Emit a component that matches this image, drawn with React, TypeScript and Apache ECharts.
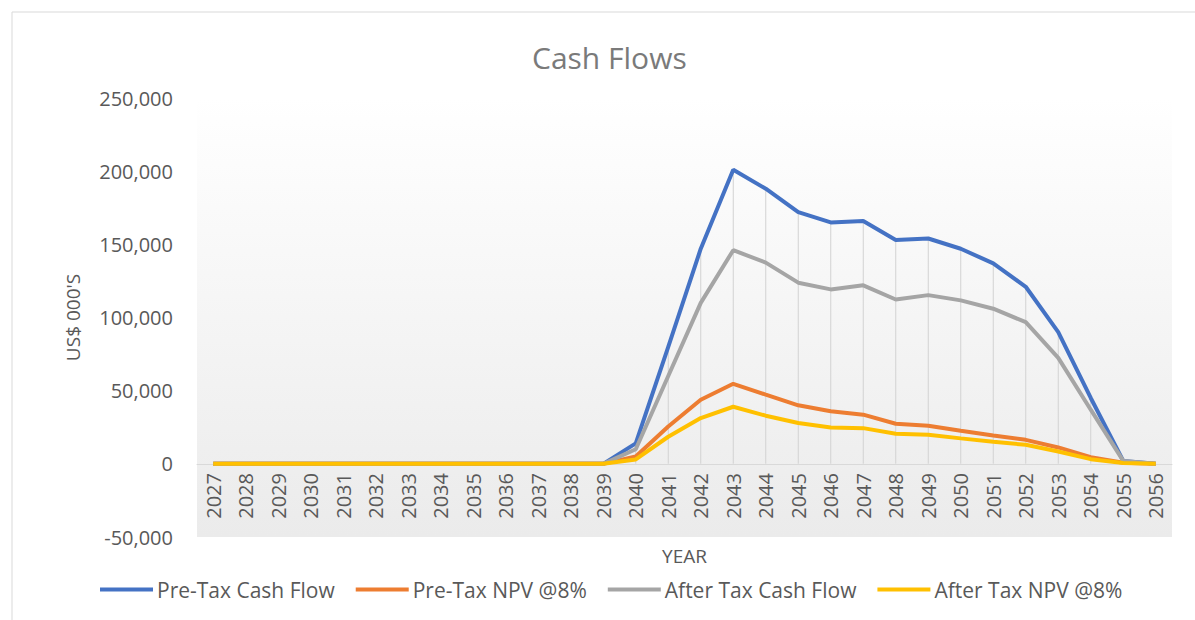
import React, { useEffect, useRef } from "react";
import * as echarts from "echarts";

const years = [
  "2027", "2028", "2029", "2030", "2031", "2032", "2033", "2034", "2035", "2036",
  "2037", "2038", "2039", "2040", "2041", "2042", "2043", "2044", "2045", "2046",
  "2047", "2048", "2049", "2050", "2051", "2052", "2053", "2054", "2055", "2056",
];

const preTaxCashFlow = [
  0, 0, 0, 0, 0, 0, 0, 0, 0, 0, 0, 0, 0,
  14000, 80000, 147000, 201000, 188000, 172000, 165000, 166000, 153000, 154000,
  147000, 137000, 121000, 90000, 45000, 2000, 0,
];

const preTaxNPV = [
  0, 0, 0, 0, 0, 0, 0, 0, 0, 0, 0, 0, 0,
  5000, 25500, 43800, 54700, 47300, 40000, 35900, 33600, 27400, 26000,
  22600, 19400, 16400, 11200, 4600, 700, 0,
];

const afterTaxCashFlow = [
  0, 0, 0, 0, 0, 0, 0, 0, 0, 0, 0, 0, 0,
  10000, 60000, 110000, 146000, 137500, 123800, 119200, 122000, 112300, 115300,
  111700, 106000, 96800, 72400, 37000, 2000, 0,
];

const afterTaxNPV = [
  0, 0, 0, 0, 0, 0, 0, 0, 0, 0, 0, 0, 0,
  3000, 18500, 31300, 39000, 32900, 27900, 24900, 24400, 20500, 19900,
  17400, 15100, 13000, 8400, 3200, 500, 0,
];

const seriesNames = [
  "Pre-Tax Cash Flow",
  "Pre-Tax NPV @8%",
  "After Tax Cash Flow",
  "After Tax NPV @8%",
];
const seriesColors = ["#4472C4", "#ED7D31", "#A5A5A5", "#FFC000"];

const FONT = "'Open Sans', sans-serif";
const TEXT = "#595959";

export default function App() {
  const ref = useRef<HTMLDivElement>(null);

  useEffect(() => {
    if (!ref.current) return;
    const chart = echarts.init(ref.current, undefined, { renderer: "svg" });
    const values = [preTaxCashFlow, preTaxNPV, afterTaxCashFlow, afterTaxNPV];

    chart.setOption({
      animation: false,
      backgroundColor: "#ffffff",
      textStyle: { fontFamily: FONT },
      title: {
        text: "Cash Flows",
        left: 527,
        top: 37,
        textStyle: { fontFamily: FONT, fontSize: 30, fontWeight: "normal", color: "#7a7a7a" },
      },
      graphic: [
        {
          type: "rect",
          shape: { x: 12, y: 12, width: 1200, height: 640 },
          style: { fill: "none", stroke: "#d9d9d9", lineWidth: 1 },
          silent: true,
          z: -10,
        },
      ],
      legend: {
        data: seriesNames,
        left: 95,
        top: 574,
        icon: "rect",
        itemWidth: 53,
        itemHeight: 4,
        itemGap: 21,
        textStyle: { fontFamily: FONT, fontSize: 21, color: TEXT, padding: [0, 0, 0, -1] },
      },
      grid: {
        left: 197,
        right: 23,
        top: 98,
        bottom: 83,
        outerBoundsMode: "none",
        containLabel: false,
        show: true,
        borderWidth: 0,
        backgroundColor: new echarts.graphic.LinearGradient(0, 0, 0, 1, [
          { offset: 0, color: "#ffffff" },
          { offset: 1, color: "#ebebeb" },
        ]),
      },
      xAxis: {
        type: "category",
        data: years,
        boundaryGap: true,
        offset: -73,
        name: "YEAR",
        nameLocation: "middle",
        nameGap: 82,
        nameTextStyle: { fontFamily: FONT, fontSize: 19, color: TEXT },
        axisLine: { onZero: false, lineStyle: { color: "#d9d9d9", width: 1 } },
        axisTick: { show: false },
        axisLabel: { rotate: 90, fontFamily: FONT, fontSize: 20, color: TEXT, margin: 9, interval: 0 },
        splitLine: { show: false },
      },
      yAxis: {
        type: "value",
        min: -50000,
        max: 250000,
        interval: 50000,
        name: "US$ 000'S",
        nameLocation: "middle",
        nameGap: 115,
        nameTextStyle: { fontFamily: FONT, fontSize: 19, color: TEXT },
        axisLine: { show: false },
        axisTick: { show: false },
        splitLine: { show: false },
        axisLabel: {
          fontFamily: FONT,
          fontSize: 20,
          color: TEXT,
          margin: 24,
          formatter: (v: number) => v.toLocaleString("en-US"),
        },
      },
      series: [
        {
          name: "Drop lines",
          type: "bar",
          data: preTaxCashFlow,
          barWidth: 1,
          silent: true,
          itemStyle: { color: "#d2d2d2" },
          z: 1,
        },
        ...seriesNames.map((name, i) => ({
          name,
          type: "line",
          data: values[i],
          symbol: "none",
          showSymbol: false,
          lineStyle: { color: seriesColors[i], width: 4 },
          itemStyle: { color: seriesColors[i] },
          z: 3 + i,
        })),
      ],
    });

    return () => chart.dispose();
  }, []);

  return (
    <div
      ref={ref}
      style={{ position: "fixed", left: 0, top: 0, width: 1195, height: 620 }}
    />
  );
}
